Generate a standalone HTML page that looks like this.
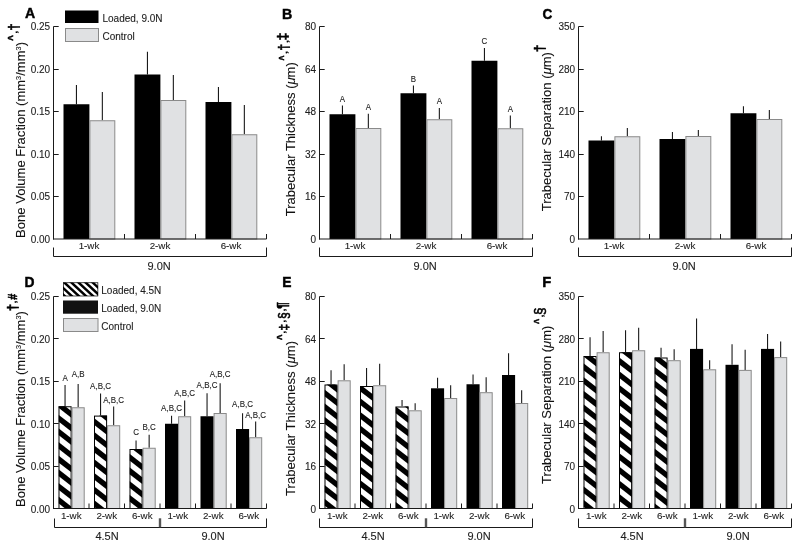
<!DOCTYPE html><html><head><meta charset="utf-8"><style>html,body{margin:0;padding:0;background:#fff;}svg{display:block;will-change:transform;}</style></head><body>
<svg width="800" height="548" viewBox="0 0 800 548" font-family="Liberation Sans, sans-serif" fill="#000">
<defs>
</defs>
<line x1="76.45" y1="85.0" x2="76.45" y2="104.25" stroke="#1a1a1a" stroke-width="1.1"/>
<rect x="63.5" y="104.25" width="25.9" height="134.75" fill="#000"/>
<line x1="102.35000000000001" y1="92.0" x2="102.35000000000001" y2="120.25" stroke="#1a1a1a" stroke-width="1.1"/>
<rect x="89.9" y="120.75" width="24.9" height="118.25" fill="#e0e1e3" stroke="#8a8a8a" stroke-width="1"/>
<line x1="147.45" y1="51.75" x2="147.45" y2="74.5" stroke="#1a1a1a" stroke-width="1.1"/>
<rect x="134.5" y="74.5" width="25.9" height="164.5" fill="#000"/>
<line x1="173.35" y1="75.0" x2="173.35" y2="100.0" stroke="#1a1a1a" stroke-width="1.1"/>
<rect x="160.9" y="100.5" width="24.9" height="138.5" fill="#e0e1e3" stroke="#8a8a8a" stroke-width="1"/>
<line x1="218.45" y1="87.0" x2="218.45" y2="102.0" stroke="#1a1a1a" stroke-width="1.1"/>
<rect x="205.5" y="102.0" width="25.9" height="137.0" fill="#000"/>
<line x1="244.35" y1="105.0" x2="244.35" y2="134.25" stroke="#1a1a1a" stroke-width="1.1"/>
<rect x="231.9" y="134.75" width="24.9" height="104.25" fill="#e0e1e3" stroke="#8a8a8a" stroke-width="1"/>
<line x1="53.5" y1="26.5" x2="53.5" y2="239.5" stroke="#1a1a1a" stroke-width="1.0"/>
<text x="50.1" y="242.6" font-size="10" text-anchor="end" font-weight="normal" stroke="#1a1a1a" stroke-width="0.1" fill="#222">0.00</text>
<line x1="53.5" y1="196.5" x2="58.7" y2="196.5" stroke="#1a1a1a" stroke-width="1.0"/>
<text x="50.1" y="200.1" font-size="10" text-anchor="end" font-weight="normal" stroke="#1a1a1a" stroke-width="0.1" fill="#222">0.05</text>
<line x1="53.5" y1="154.5" x2="58.7" y2="154.5" stroke="#1a1a1a" stroke-width="1.0"/>
<text x="50.1" y="157.6" font-size="10" text-anchor="end" font-weight="normal" stroke="#1a1a1a" stroke-width="0.1" fill="#222">0.10</text>
<line x1="53.5" y1="111.5" x2="58.7" y2="111.5" stroke="#1a1a1a" stroke-width="1.0"/>
<text x="50.1" y="115.1" font-size="10" text-anchor="end" font-weight="normal" stroke="#1a1a1a" stroke-width="0.1" fill="#222">0.15</text>
<line x1="53.5" y1="69.5" x2="58.7" y2="69.5" stroke="#1a1a1a" stroke-width="1.0"/>
<text x="50.1" y="72.6" font-size="10" text-anchor="end" font-weight="normal" stroke="#1a1a1a" stroke-width="0.1" fill="#222">0.20</text>
<line x1="53.5" y1="26.5" x2="58.7" y2="26.5" stroke="#1a1a1a" stroke-width="1.0"/>
<text x="50.1" y="30.1" font-size="10" text-anchor="end" font-weight="normal" stroke="#1a1a1a" stroke-width="0.1" fill="#222">0.25</text>
<line x1="53.0" y1="239.0" x2="266.5" y2="239.0" stroke="#1a1a1a" stroke-width="1.0"/>
<line x1="124.5" y1="234.0" x2="124.5" y2="239.0" stroke="#1a1a1a" stroke-width="1.0"/>
<line x1="195.5" y1="234.0" x2="195.5" y2="239.0" stroke="#1a1a1a" stroke-width="1.0"/>
<line x1="266.5" y1="234.0" x2="266.5" y2="239.0" stroke="#1a1a1a" stroke-width="1.0"/>
<text x="89.0" y="249.2" font-size="9.8" text-anchor="middle" font-weight="normal" stroke="#1a1a1a" stroke-width="0.1" fill="#222">1-wk</text>
<text x="160.0" y="249.2" font-size="9.8" text-anchor="middle" font-weight="normal" stroke="#1a1a1a" stroke-width="0.1" fill="#222">2-wk</text>
<text x="231.0" y="249.2" font-size="9.8" text-anchor="middle" font-weight="normal" stroke="#1a1a1a" stroke-width="0.1" fill="#222">6-wk</text>
<polyline points="53.5,247.5 53.5,256.5 266.5,256.5 266.5,247.5" fill="none" stroke="#1a1a1a" stroke-width="1"/>
<text x="159.1" y="269.6" font-size="11" text-anchor="middle" font-weight="normal" stroke="#1a1a1a" stroke-width="0.1" fill="#222">9.0N</text>
<text transform="translate(24.97,18.47) scale(0.7043,0.7638)" font-size="20" font-weight="bold" fill="#000" stroke="#000" stroke-width="0.613">A</text>
<line x1="342.45" y1="105.5" x2="342.45" y2="114.25" stroke="#1a1a1a" stroke-width="1.1"/>
<rect x="329.5" y="114.25" width="25.9" height="124.75" fill="#000"/>
<line x1="368.34999999999997" y1="113.75" x2="368.34999999999997" y2="128.0" stroke="#1a1a1a" stroke-width="1.1"/>
<rect x="355.9" y="128.5" width="24.9" height="110.5" fill="#e0e1e3" stroke="#8a8a8a" stroke-width="1"/>
<text x="342.45" y="101.8" font-size="8.6" text-anchor="middle" font-weight="normal" fill="#1a1a1a" stroke="#1a1a1a" stroke-width="0.1" textLength="5.28" lengthAdjust="spacingAndGlyphs">A</text>
<text x="368.34999999999997" y="109.95" font-size="8.6" text-anchor="middle" font-weight="normal" fill="#1a1a1a" stroke="#1a1a1a" stroke-width="0.1" textLength="5.28" lengthAdjust="spacingAndGlyphs">A</text>
<line x1="413.45" y1="85.5" x2="413.45" y2="93.25" stroke="#1a1a1a" stroke-width="1.1"/>
<rect x="400.5" y="93.25" width="25.9" height="145.75" fill="#000"/>
<line x1="439.34999999999997" y1="108.0" x2="439.34999999999997" y2="119.25" stroke="#1a1a1a" stroke-width="1.1"/>
<rect x="426.9" y="119.75" width="24.9" height="119.25" fill="#e0e1e3" stroke="#8a8a8a" stroke-width="1"/>
<text x="413.45" y="81.8" font-size="8.6" text-anchor="middle" font-weight="normal" fill="#1a1a1a" stroke="#1a1a1a" stroke-width="0.1" textLength="5.28" lengthAdjust="spacingAndGlyphs">B</text>
<text x="439.34999999999997" y="104.2" font-size="8.6" text-anchor="middle" font-weight="normal" fill="#1a1a1a" stroke="#1a1a1a" stroke-width="0.1" textLength="5.28" lengthAdjust="spacingAndGlyphs">A</text>
<line x1="484.45" y1="48.0" x2="484.45" y2="60.75" stroke="#1a1a1a" stroke-width="1.1"/>
<rect x="471.5" y="60.75" width="25.9" height="178.25" fill="#000"/>
<line x1="510.34999999999997" y1="115.5" x2="510.34999999999997" y2="128.25" stroke="#1a1a1a" stroke-width="1.1"/>
<rect x="497.9" y="128.75" width="24.9" height="110.25" fill="#e0e1e3" stroke="#8a8a8a" stroke-width="1"/>
<text x="484.45" y="44.3" font-size="8.6" text-anchor="middle" font-weight="normal" fill="#1a1a1a" stroke="#1a1a1a" stroke-width="0.1" textLength="5.71" lengthAdjust="spacingAndGlyphs">C</text>
<text x="510.34999999999997" y="111.7" font-size="8.6" text-anchor="middle" font-weight="normal" fill="#1a1a1a" stroke="#1a1a1a" stroke-width="0.1" textLength="5.28" lengthAdjust="spacingAndGlyphs">A</text>
<line x1="319.5" y1="26.5" x2="319.5" y2="239.5" stroke="#1a1a1a" stroke-width="1.0"/>
<text x="316.1" y="242.6" font-size="10" text-anchor="end" font-weight="normal" stroke="#1a1a1a" stroke-width="0.1" fill="#222">0</text>
<line x1="319.5" y1="196.5" x2="324.7" y2="196.5" stroke="#1a1a1a" stroke-width="1.0"/>
<text x="316.1" y="200.1" font-size="10" text-anchor="end" font-weight="normal" stroke="#1a1a1a" stroke-width="0.1" fill="#222">16</text>
<line x1="319.5" y1="154.5" x2="324.7" y2="154.5" stroke="#1a1a1a" stroke-width="1.0"/>
<text x="316.1" y="157.6" font-size="10" text-anchor="end" font-weight="normal" stroke="#1a1a1a" stroke-width="0.1" fill="#222">32</text>
<line x1="319.5" y1="111.5" x2="324.7" y2="111.5" stroke="#1a1a1a" stroke-width="1.0"/>
<text x="316.1" y="115.1" font-size="10" text-anchor="end" font-weight="normal" stroke="#1a1a1a" stroke-width="0.1" fill="#222">48</text>
<line x1="319.5" y1="69.5" x2="324.7" y2="69.5" stroke="#1a1a1a" stroke-width="1.0"/>
<text x="316.1" y="72.6" font-size="10" text-anchor="end" font-weight="normal" stroke="#1a1a1a" stroke-width="0.1" fill="#222">64</text>
<line x1="319.5" y1="26.5" x2="324.7" y2="26.5" stroke="#1a1a1a" stroke-width="1.0"/>
<text x="316.1" y="30.1" font-size="10" text-anchor="end" font-weight="normal" stroke="#1a1a1a" stroke-width="0.1" fill="#222">80</text>
<line x1="319.0" y1="239.0" x2="532.5" y2="239.0" stroke="#1a1a1a" stroke-width="1.0"/>
<line x1="390.5" y1="234.0" x2="390.5" y2="239.0" stroke="#1a1a1a" stroke-width="1.0"/>
<line x1="461.5" y1="234.0" x2="461.5" y2="239.0" stroke="#1a1a1a" stroke-width="1.0"/>
<line x1="532.5" y1="234.0" x2="532.5" y2="239.0" stroke="#1a1a1a" stroke-width="1.0"/>
<text x="355.0" y="249.2" font-size="9.8" text-anchor="middle" font-weight="normal" stroke="#1a1a1a" stroke-width="0.1" fill="#222">1-wk</text>
<text x="426.0" y="249.2" font-size="9.8" text-anchor="middle" font-weight="normal" stroke="#1a1a1a" stroke-width="0.1" fill="#222">2-wk</text>
<text x="497.0" y="249.2" font-size="9.8" text-anchor="middle" font-weight="normal" stroke="#1a1a1a" stroke-width="0.1" fill="#222">6-wk</text>
<polyline points="319.5,247.5 319.5,256.5 532.5,256.5 532.5,247.5" fill="none" stroke="#1a1a1a" stroke-width="1"/>
<text x="425.1" y="269.6" font-size="11" text-anchor="middle" font-weight="normal" stroke="#1a1a1a" stroke-width="0.1" fill="#222">9.0N</text>
<text transform="translate(282.12,18.57) scale(0.7108,0.7522)" font-size="20" font-weight="bold" fill="#000" stroke="#000" stroke-width="0.615">B</text>
<line x1="601.45" y1="136.25" x2="601.45" y2="140.5" stroke="#1a1a1a" stroke-width="1.1"/>
<rect x="588.5" y="140.5" width="25.9" height="98.5" fill="#000"/>
<line x1="627.35" y1="128.0" x2="627.35" y2="136.25" stroke="#1a1a1a" stroke-width="1.1"/>
<rect x="614.9" y="136.75" width="24.9" height="102.25" fill="#e0e1e3" stroke="#8a8a8a" stroke-width="1"/>
<line x1="672.45" y1="132.0" x2="672.45" y2="139.0" stroke="#1a1a1a" stroke-width="1.1"/>
<rect x="659.5" y="139.0" width="25.9" height="100.0" fill="#000"/>
<line x1="698.35" y1="130.0" x2="698.35" y2="136.0" stroke="#1a1a1a" stroke-width="1.1"/>
<rect x="685.9" y="136.5" width="24.9" height="102.5" fill="#e0e1e3" stroke="#8a8a8a" stroke-width="1"/>
<line x1="743.45" y1="106.25" x2="743.45" y2="113.25" stroke="#1a1a1a" stroke-width="1.1"/>
<rect x="730.5" y="113.25" width="25.9" height="125.75" fill="#000"/>
<line x1="769.35" y1="110.0" x2="769.35" y2="119.0" stroke="#1a1a1a" stroke-width="1.1"/>
<rect x="756.9" y="119.5" width="24.9" height="119.5" fill="#e0e1e3" stroke="#8a8a8a" stroke-width="1"/>
<line x1="578.5" y1="26.5" x2="578.5" y2="239.5" stroke="#1a1a1a" stroke-width="1.0"/>
<text x="575.1" y="242.6" font-size="10" text-anchor="end" font-weight="normal" stroke="#1a1a1a" stroke-width="0.1" fill="#222">0</text>
<line x1="578.5" y1="196.5" x2="583.7" y2="196.5" stroke="#1a1a1a" stroke-width="1.0"/>
<text x="575.1" y="200.1" font-size="10" text-anchor="end" font-weight="normal" stroke="#1a1a1a" stroke-width="0.1" fill="#222">70</text>
<line x1="578.5" y1="154.5" x2="583.7" y2="154.5" stroke="#1a1a1a" stroke-width="1.0"/>
<text x="575.1" y="157.6" font-size="10" text-anchor="end" font-weight="normal" stroke="#1a1a1a" stroke-width="0.1" fill="#222">140</text>
<line x1="578.5" y1="111.5" x2="583.7" y2="111.5" stroke="#1a1a1a" stroke-width="1.0"/>
<text x="575.1" y="115.1" font-size="10" text-anchor="end" font-weight="normal" stroke="#1a1a1a" stroke-width="0.1" fill="#222">210</text>
<line x1="578.5" y1="69.5" x2="583.7" y2="69.5" stroke="#1a1a1a" stroke-width="1.0"/>
<text x="575.1" y="72.6" font-size="10" text-anchor="end" font-weight="normal" stroke="#1a1a1a" stroke-width="0.1" fill="#222">280</text>
<line x1="578.5" y1="26.5" x2="583.7" y2="26.5" stroke="#1a1a1a" stroke-width="1.0"/>
<text x="575.1" y="30.1" font-size="10" text-anchor="end" font-weight="normal" stroke="#1a1a1a" stroke-width="0.1" fill="#222">350</text>
<line x1="578.0" y1="239.0" x2="791.5" y2="239.0" stroke="#1a1a1a" stroke-width="1.0"/>
<line x1="649.5" y1="234.0" x2="649.5" y2="239.0" stroke="#1a1a1a" stroke-width="1.0"/>
<line x1="720.5" y1="234.0" x2="720.5" y2="239.0" stroke="#1a1a1a" stroke-width="1.0"/>
<line x1="791.5" y1="234.0" x2="791.5" y2="239.0" stroke="#1a1a1a" stroke-width="1.0"/>
<text x="614.0" y="249.2" font-size="9.8" text-anchor="middle" font-weight="normal" stroke="#1a1a1a" stroke-width="0.1" fill="#222">1-wk</text>
<text x="685.0" y="249.2" font-size="9.8" text-anchor="middle" font-weight="normal" stroke="#1a1a1a" stroke-width="0.1" fill="#222">2-wk</text>
<text x="756.0" y="249.2" font-size="9.8" text-anchor="middle" font-weight="normal" stroke="#1a1a1a" stroke-width="0.1" fill="#222">6-wk</text>
<polyline points="578.5,247.5 578.5,256.5 791.5,256.5 791.5,247.5" fill="none" stroke="#1a1a1a" stroke-width="1"/>
<text x="684.1" y="269.6" font-size="11" text-anchor="middle" font-weight="normal" stroke="#1a1a1a" stroke-width="0.1" fill="#222">9.0N</text>
<text transform="translate(542.52,18.60) scale(0.6768,0.7542)" font-size="20" font-weight="bold" fill="#000" stroke="#000" stroke-width="0.629">C</text>
<rect x="65" y="10.5" width="33.5" height="12.5" fill="#000"/>
<rect x="65.5" y="28.5" width="33" height="13" fill="#e0e1e3" stroke="#8a8a8a" stroke-width="1"/>
<text x="102.5" y="21.8" font-size="10" text-anchor="start" font-weight="normal" stroke="#1a1a1a" stroke-width="0.1" fill="#222">Loaded, 9.0N</text>
<text x="102.5" y="40.4" font-size="10" text-anchor="start" font-weight="normal" stroke="#1a1a1a" stroke-width="0.1" fill="#222">Control</text>
<line x1="65.05" y1="385.0" x2="65.05" y2="406.25" stroke="#1a1a1a" stroke-width="1.1"/>
<clipPath id="c1"><rect x="58.5" y="406.25" width="13.1" height="102.25"/></clipPath>
<rect x="58.5" y="406.25" width="13.1" height="102.25" fill="#fff"/>
<g clip-path="url(#c1)" fill="#000"><polygon points="58.5,373.70 71.6,383.92 71.6,390.72 58.5,380.50"/><polygon points="58.5,387.35 71.6,397.57 71.6,404.37 58.5,394.15"/><polygon points="58.5,401.00 71.6,411.22 71.6,418.02 58.5,407.80"/><polygon points="58.5,414.65 71.6,424.87 71.6,431.67 58.5,421.45"/><polygon points="58.5,428.30 71.6,438.52 71.6,445.32 58.5,435.10"/><polygon points="58.5,441.95 71.6,452.17 71.6,458.97 58.5,448.75"/><polygon points="58.5,455.60 71.6,465.82 71.6,472.62 58.5,462.40"/><polygon points="58.5,469.25 71.6,479.47 71.6,486.27 58.5,476.05"/><polygon points="58.5,482.90 71.6,493.12 71.6,499.92 58.5,489.70"/><polygon points="58.5,496.55 71.6,506.77 71.6,513.57 58.5,503.35"/><polygon points="58.5,510.20 71.6,520.42 71.6,527.22 58.5,517.00"/></g>
<rect x="59.0" y="406.75" width="12.1" height="101.75" fill="none" stroke="#000" stroke-width="1.0"/>
<line x1="78.14999999999999" y1="384.0" x2="78.14999999999999" y2="407.25" stroke="#1a1a1a" stroke-width="1.1"/>
<rect x="72.1" y="407.75" width="12.1" height="100.75" fill="#e0e1e3" stroke="#8a8a8a" stroke-width="1"/>
<text x="65.05" y="381.3" font-size="9.2" text-anchor="middle" font-weight="normal" fill="#1a1a1a" stroke="#1a1a1a" stroke-width="0.1" textLength="5.34" lengthAdjust="spacingAndGlyphs">A</text>
<text x="78.14999999999999" y="376.6" font-size="9.2" text-anchor="middle" font-weight="normal" fill="#1a1a1a" stroke="#1a1a1a" stroke-width="0.1" textLength="12.90" lengthAdjust="spacingAndGlyphs">A,B</text>
<line x1="100.55" y1="393.5" x2="100.55" y2="415.6" stroke="#1a1a1a" stroke-width="1.1"/>
<clipPath id="c2"><rect x="94.0" y="415.6" width="13.1" height="92.89999999999998"/></clipPath>
<rect x="94.0" y="415.6" width="13.1" height="92.89999999999998" fill="#fff"/>
<g clip-path="url(#c2)" fill="#000"><polygon points="94.0,390.75 107.1,400.97 107.1,407.77 94.0,397.55"/><polygon points="94.0,404.40 107.1,414.62 107.1,421.42 94.0,411.20"/><polygon points="94.0,418.05 107.1,428.27 107.1,435.07 94.0,424.85"/><polygon points="94.0,431.70 107.1,441.92 107.1,448.72 94.0,438.50"/><polygon points="94.0,445.35 107.1,455.57 107.1,462.37 94.0,452.15"/><polygon points="94.0,459.00 107.1,469.22 107.1,476.02 94.0,465.80"/><polygon points="94.0,472.65 107.1,482.87 107.1,489.67 94.0,479.45"/><polygon points="94.0,486.30 107.1,496.52 107.1,503.32 94.0,493.10"/><polygon points="94.0,499.95 107.1,510.17 107.1,516.97 94.0,506.75"/><polygon points="94.0,513.60 107.1,523.82 107.1,530.62 94.0,520.40"/></g>
<rect x="94.5" y="416.1" width="12.1" height="92.39999999999998" fill="none" stroke="#000" stroke-width="1.0"/>
<line x1="113.64999999999999" y1="406.5" x2="113.64999999999999" y2="425.25" stroke="#1a1a1a" stroke-width="1.1"/>
<rect x="107.6" y="425.75" width="12.1" height="82.75" fill="#e0e1e3" stroke="#8a8a8a" stroke-width="1"/>
<text x="100.55" y="389.0" font-size="9.2" text-anchor="middle" font-weight="normal" fill="#1a1a1a" stroke="#1a1a1a" stroke-width="0.1" textLength="20.90" lengthAdjust="spacingAndGlyphs">A,B,C</text>
<text x="113.64999999999999" y="402.5" font-size="9.2" text-anchor="middle" font-weight="normal" fill="#1a1a1a" stroke="#1a1a1a" stroke-width="0.1" textLength="20.90" lengthAdjust="spacingAndGlyphs">A,B,C</text>
<line x1="136.05" y1="440.5" x2="136.05" y2="449.0" stroke="#1a1a1a" stroke-width="1.1"/>
<clipPath id="c3"><rect x="129.5" y="449.0" width="13.1" height="59.5"/></clipPath>
<rect x="129.5" y="449.0" width="13.1" height="59.5" fill="#fff"/>
<g clip-path="url(#c3)" fill="#000"><polygon points="129.5,412.75 142.6,422.97 142.6,429.77 129.5,419.55"/><polygon points="129.5,426.40 142.6,436.62 142.6,443.42 129.5,433.20"/><polygon points="129.5,440.05 142.6,450.27 142.6,457.07 129.5,446.85"/><polygon points="129.5,453.70 142.6,463.92 142.6,470.72 129.5,460.50"/><polygon points="129.5,467.35 142.6,477.57 142.6,484.37 129.5,474.15"/><polygon points="129.5,481.00 142.6,491.22 142.6,498.02 129.5,487.80"/><polygon points="129.5,494.65 142.6,504.87 142.6,511.67 129.5,501.45"/><polygon points="129.5,508.30 142.6,518.52 142.6,525.32 129.5,515.10"/><polygon points="129.5,521.95 142.6,532.17 142.6,538.97 129.5,528.75"/></g>
<rect x="130.0" y="449.5" width="12.1" height="59.0" fill="none" stroke="#000" stroke-width="1.0"/>
<line x1="149.15" y1="434.75" x2="149.15" y2="447.75" stroke="#1a1a1a" stroke-width="1.1"/>
<rect x="143.1" y="448.25" width="12.1" height="60.25" fill="#e0e1e3" stroke="#8a8a8a" stroke-width="1"/>
<text x="136.05" y="435.1" font-size="9.2" text-anchor="middle" font-weight="normal" fill="#1a1a1a" stroke="#1a1a1a" stroke-width="0.1" textLength="5.78" lengthAdjust="spacingAndGlyphs">C</text>
<text x="149.15" y="429.6" font-size="9.2" text-anchor="middle" font-weight="normal" fill="#1a1a1a" stroke="#1a1a1a" stroke-width="0.1" textLength="13.34" lengthAdjust="spacingAndGlyphs">B,C</text>
<line x1="171.55" y1="415.8" x2="171.55" y2="423.75" stroke="#1a1a1a" stroke-width="1.1"/>
<rect x="165.0" y="423.75" width="13.1" height="84.75" fill="#000"/>
<line x1="184.65" y1="400.5" x2="184.65" y2="416.25" stroke="#1a1a1a" stroke-width="1.1"/>
<rect x="178.6" y="416.75" width="12.1" height="91.75" fill="#e0e1e3" stroke="#8a8a8a" stroke-width="1"/>
<text x="171.55" y="411.3" font-size="9.2" text-anchor="middle" font-weight="normal" fill="#1a1a1a" stroke="#1a1a1a" stroke-width="0.1" textLength="20.90" lengthAdjust="spacingAndGlyphs">A,B,C</text>
<text x="184.65" y="396.3" font-size="9.2" text-anchor="middle" font-weight="normal" fill="#1a1a1a" stroke="#1a1a1a" stroke-width="0.1" textLength="20.90" lengthAdjust="spacingAndGlyphs">A,B,C</text>
<line x1="207.05" y1="393.3" x2="207.05" y2="416.25" stroke="#1a1a1a" stroke-width="1.1"/>
<rect x="200.5" y="416.25" width="13.1" height="92.25" fill="#000"/>
<line x1="220.15" y1="383.25" x2="220.15" y2="413.0" stroke="#1a1a1a" stroke-width="1.1"/>
<rect x="214.1" y="413.5" width="12.1" height="95.0" fill="#e0e1e3" stroke="#8a8a8a" stroke-width="1"/>
<text x="207.05" y="388.0" font-size="9.2" text-anchor="middle" font-weight="normal" fill="#1a1a1a" stroke="#1a1a1a" stroke-width="0.1" textLength="20.90" lengthAdjust="spacingAndGlyphs">A,B,C</text>
<text x="220.15" y="376.8" font-size="9.2" text-anchor="middle" font-weight="normal" fill="#1a1a1a" stroke="#1a1a1a" stroke-width="0.1" textLength="20.90" lengthAdjust="spacingAndGlyphs">A,B,C</text>
<line x1="242.55" y1="413.25" x2="242.55" y2="429.0" stroke="#1a1a1a" stroke-width="1.1"/>
<rect x="236.0" y="429.0" width="13.1" height="79.5" fill="#000"/>
<line x1="255.65" y1="421.5" x2="255.65" y2="437.25" stroke="#1a1a1a" stroke-width="1.1"/>
<rect x="249.6" y="437.75" width="12.1" height="70.75" fill="#e0e1e3" stroke="#8a8a8a" stroke-width="1"/>
<text x="242.55" y="406.5" font-size="9.2" text-anchor="middle" font-weight="normal" fill="#1a1a1a" stroke="#1a1a1a" stroke-width="0.1" textLength="20.90" lengthAdjust="spacingAndGlyphs">A,B,C</text>
<text x="255.65" y="417.6" font-size="9.2" text-anchor="middle" font-weight="normal" fill="#1a1a1a" stroke="#1a1a1a" stroke-width="0.1" textLength="20.90" lengthAdjust="spacingAndGlyphs">A,B,C</text>
<line x1="53.5" y1="296.5" x2="53.5" y2="509.0" stroke="#1a1a1a" stroke-width="1.0"/>
<text x="50.1" y="512.7" font-size="10" text-anchor="end" font-weight="normal" stroke="#1a1a1a" stroke-width="0.1" fill="#222">0.00</text>
<line x1="53.5" y1="466.5" x2="58.7" y2="466.5" stroke="#1a1a1a" stroke-width="1.0"/>
<text x="50.1" y="470.18000000000006" font-size="10" text-anchor="end" font-weight="normal" stroke="#1a1a1a" stroke-width="0.1" fill="#222">0.05</text>
<line x1="53.5" y1="423.5" x2="58.7" y2="423.5" stroke="#1a1a1a" stroke-width="1.0"/>
<text x="50.1" y="427.66" font-size="10" text-anchor="end" font-weight="normal" stroke="#1a1a1a" stroke-width="0.1" fill="#222">0.10</text>
<line x1="53.5" y1="381.5" x2="58.7" y2="381.5" stroke="#1a1a1a" stroke-width="1.0"/>
<text x="50.1" y="385.14000000000004" font-size="10" text-anchor="end" font-weight="normal" stroke="#1a1a1a" stroke-width="0.1" fill="#222">0.15</text>
<line x1="53.5" y1="338.5" x2="58.7" y2="338.5" stroke="#1a1a1a" stroke-width="1.0"/>
<text x="50.1" y="342.62" font-size="10" text-anchor="end" font-weight="normal" stroke="#1a1a1a" stroke-width="0.1" fill="#222">0.20</text>
<line x1="53.5" y1="296.5" x2="58.7" y2="296.5" stroke="#1a1a1a" stroke-width="1.0"/>
<text x="50.1" y="300.1" font-size="10" text-anchor="end" font-weight="normal" stroke="#1a1a1a" stroke-width="0.1" fill="#222">0.25</text>
<line x1="53.0" y1="508.5" x2="266.5" y2="508.5" stroke="#1a1a1a" stroke-width="1.0"/>
<line x1="89.0" y1="503.5" x2="89.0" y2="508.5" stroke="#1a1a1a" stroke-width="1.0"/>
<line x1="124.5" y1="503.5" x2="124.5" y2="508.5" stroke="#1a1a1a" stroke-width="1.0"/>
<line x1="160.0" y1="503.5" x2="160.0" y2="508.5" stroke="#1a1a1a" stroke-width="1.0"/>
<line x1="195.5" y1="503.5" x2="195.5" y2="508.5" stroke="#1a1a1a" stroke-width="1.0"/>
<line x1="231.0" y1="503.5" x2="231.0" y2="508.5" stroke="#1a1a1a" stroke-width="1.0"/>
<line x1="266.5" y1="503.5" x2="266.5" y2="508.5" stroke="#1a1a1a" stroke-width="1.0"/>
<text x="71.25" y="519.2" font-size="9.8" text-anchor="middle" font-weight="normal" stroke="#1a1a1a" stroke-width="0.1" fill="#222">1-wk</text>
<text x="106.75" y="519.2" font-size="9.8" text-anchor="middle" font-weight="normal" stroke="#1a1a1a" stroke-width="0.1" fill="#222">2-wk</text>
<text x="142.25" y="519.2" font-size="9.8" text-anchor="middle" font-weight="normal" stroke="#1a1a1a" stroke-width="0.1" fill="#222">6-wk</text>
<text x="177.75" y="519.2" font-size="9.8" text-anchor="middle" font-weight="normal" stroke="#1a1a1a" stroke-width="0.1" fill="#222">1-wk</text>
<text x="213.25" y="519.2" font-size="9.8" text-anchor="middle" font-weight="normal" stroke="#1a1a1a" stroke-width="0.1" fill="#222">2-wk</text>
<text x="248.75" y="519.2" font-size="9.8" text-anchor="middle" font-weight="normal" stroke="#1a1a1a" stroke-width="0.1" fill="#222">6-wk</text>
<polyline points="54.5,518.5 54.5,527.5 266.5,527.5 266.5,518.5" fill="none" stroke="#1a1a1a" stroke-width="1"/>
<rect x="158.8" y="518.3" width="2.4" height="9" fill="#555"/>
<text x="107.0" y="539.8" font-size="11" text-anchor="middle" font-weight="normal" stroke="#1a1a1a" stroke-width="0.1" fill="#222">4.5N</text>
<text x="213.0" y="539.8" font-size="11" text-anchor="middle" font-weight="normal" stroke="#1a1a1a" stroke-width="0.1" fill="#222">9.0N</text>
<text transform="translate(24.40,286.77) scale(0.6930,0.7522)" font-size="20" font-weight="bold" fill="#000" stroke="#000" stroke-width="0.623">D</text>
<line x1="331.05" y1="370.25" x2="331.05" y2="384.5" stroke="#1a1a1a" stroke-width="1.1"/>
<clipPath id="c4"><rect x="324.5" y="384.5" width="13.1" height="124.0"/></clipPath>
<rect x="324.5" y="384.5" width="13.1" height="124.0" fill="#fff"/>
<g clip-path="url(#c4)" fill="#000"><polygon points="324.5,348.60 337.6,358.82 337.6,365.62 324.5,355.40"/><polygon points="324.5,362.25 337.6,372.47 337.6,379.27 324.5,369.05"/><polygon points="324.5,375.90 337.6,386.12 337.6,392.92 324.5,382.70"/><polygon points="324.5,389.55 337.6,399.77 337.6,406.57 324.5,396.35"/><polygon points="324.5,403.20 337.6,413.42 337.6,420.22 324.5,410.00"/><polygon points="324.5,416.85 337.6,427.07 337.6,433.87 324.5,423.65"/><polygon points="324.5,430.50 337.6,440.72 337.6,447.52 324.5,437.30"/><polygon points="324.5,444.15 337.6,454.37 337.6,461.17 324.5,450.95"/><polygon points="324.5,457.80 337.6,468.02 337.6,474.82 324.5,464.60"/><polygon points="324.5,471.45 337.6,481.67 337.6,488.47 324.5,478.25"/><polygon points="324.5,485.10 337.6,495.32 337.6,502.12 324.5,491.90"/><polygon points="324.5,498.75 337.6,508.97 337.6,515.77 324.5,505.55"/><polygon points="324.5,512.40 337.6,522.62 337.6,529.42 324.5,519.20"/></g>
<rect x="325.0" y="385.0" width="12.1" height="123.5" fill="none" stroke="#000" stroke-width="1.0"/>
<line x1="344.15000000000003" y1="364.25" x2="344.15000000000003" y2="380.3" stroke="#1a1a1a" stroke-width="1.1"/>
<rect x="338.1" y="380.8" width="12.1" height="127.69999999999999" fill="#e0e1e3" stroke="#8a8a8a" stroke-width="1"/>
<line x1="366.55" y1="368.0" x2="366.55" y2="386.0" stroke="#1a1a1a" stroke-width="1.1"/>
<clipPath id="c5"><rect x="360.0" y="386.0" width="13.1" height="122.5"/></clipPath>
<rect x="360.0" y="386.0" width="13.1" height="122.5" fill="#fff"/>
<g clip-path="url(#c5)" fill="#000"><polygon points="360.0,357.05 373.1,367.27 373.1,374.07 360.0,363.85"/><polygon points="360.0,370.70 373.1,380.92 373.1,387.72 360.0,377.50"/><polygon points="360.0,384.35 373.1,394.57 373.1,401.37 360.0,391.15"/><polygon points="360.0,398.00 373.1,408.22 373.1,415.02 360.0,404.80"/><polygon points="360.0,411.65 373.1,421.87 373.1,428.67 360.0,418.45"/><polygon points="360.0,425.30 373.1,435.52 373.1,442.32 360.0,432.10"/><polygon points="360.0,438.95 373.1,449.17 373.1,455.97 360.0,445.75"/><polygon points="360.0,452.60 373.1,462.82 373.1,469.62 360.0,459.40"/><polygon points="360.0,466.25 373.1,476.47 373.1,483.27 360.0,473.05"/><polygon points="360.0,479.90 373.1,490.12 373.1,496.92 360.0,486.70"/><polygon points="360.0,493.55 373.1,503.77 373.1,510.57 360.0,500.35"/><polygon points="360.0,507.20 373.1,517.42 373.1,524.22 360.0,514.00"/><polygon points="360.0,520.85 373.1,531.07 373.1,537.87 360.0,527.65"/></g>
<rect x="360.5" y="386.5" width="12.1" height="122.0" fill="none" stroke="#000" stroke-width="1.0"/>
<line x1="379.65000000000003" y1="363.8" x2="379.65000000000003" y2="385.25" stroke="#1a1a1a" stroke-width="1.1"/>
<rect x="373.6" y="385.75" width="12.1" height="122.75" fill="#e0e1e3" stroke="#8a8a8a" stroke-width="1"/>
<line x1="402.05" y1="400.0" x2="402.05" y2="406.5" stroke="#1a1a1a" stroke-width="1.1"/>
<clipPath id="c6"><rect x="395.5" y="406.5" width="13.1" height="102.0"/></clipPath>
<rect x="395.5" y="406.5" width="13.1" height="102.0" fill="#fff"/>
<g clip-path="url(#c6)" fill="#000"><polygon points="395.5,378.90 408.6,389.12 408.6,395.92 395.5,385.70"/><polygon points="395.5,392.55 408.6,402.77 408.6,409.57 395.5,399.35"/><polygon points="395.5,406.20 408.6,416.42 408.6,423.22 395.5,413.00"/><polygon points="395.5,419.85 408.6,430.07 408.6,436.87 395.5,426.65"/><polygon points="395.5,433.50 408.6,443.72 408.6,450.52 395.5,440.30"/><polygon points="395.5,447.15 408.6,457.37 408.6,464.17 395.5,453.95"/><polygon points="395.5,460.80 408.6,471.02 408.6,477.82 395.5,467.60"/><polygon points="395.5,474.45 408.6,484.67 408.6,491.47 395.5,481.25"/><polygon points="395.5,488.10 408.6,498.32 408.6,505.12 395.5,494.90"/><polygon points="395.5,501.75 408.6,511.97 408.6,518.77 395.5,508.55"/><polygon points="395.5,515.40 408.6,525.62 408.6,532.42 395.5,522.20"/></g>
<rect x="396.0" y="407.0" width="12.1" height="101.5" fill="none" stroke="#000" stroke-width="1.0"/>
<line x1="415.15000000000003" y1="403.25" x2="415.15000000000003" y2="410.3" stroke="#1a1a1a" stroke-width="1.1"/>
<rect x="409.1" y="410.8" width="12.1" height="97.69999999999999" fill="#e0e1e3" stroke="#8a8a8a" stroke-width="1"/>
<line x1="437.55" y1="377.8" x2="437.55" y2="388.3" stroke="#1a1a1a" stroke-width="1.1"/>
<rect x="431.0" y="388.3" width="13.1" height="120.19999999999999" fill="#000"/>
<line x1="450.65000000000003" y1="385.3" x2="450.65000000000003" y2="398.0" stroke="#1a1a1a" stroke-width="1.1"/>
<rect x="444.6" y="398.5" width="12.1" height="110.0" fill="#e0e1e3" stroke="#8a8a8a" stroke-width="1"/>
<line x1="473.05" y1="374.5" x2="473.05" y2="384.25" stroke="#1a1a1a" stroke-width="1.1"/>
<rect x="466.5" y="384.25" width="13.1" height="124.25" fill="#000"/>
<line x1="486.15000000000003" y1="377.2" x2="486.15000000000003" y2="392.2" stroke="#1a1a1a" stroke-width="1.1"/>
<rect x="480.1" y="392.7" width="12.1" height="115.80000000000001" fill="#e0e1e3" stroke="#8a8a8a" stroke-width="1"/>
<line x1="508.55" y1="353.2" x2="508.55" y2="375.0" stroke="#1a1a1a" stroke-width="1.1"/>
<rect x="502.0" y="375.0" width="13.1" height="133.5" fill="#000"/>
<line x1="521.65" y1="390.25" x2="521.65" y2="403.0" stroke="#1a1a1a" stroke-width="1.1"/>
<rect x="515.6" y="403.5" width="12.1" height="105.0" fill="#e0e1e3" stroke="#8a8a8a" stroke-width="1"/>
<line x1="319.5" y1="296.5" x2="319.5" y2="509.0" stroke="#1a1a1a" stroke-width="1.0"/>
<text x="316.1" y="512.7" font-size="10" text-anchor="end" font-weight="normal" stroke="#1a1a1a" stroke-width="0.1" fill="#222">0</text>
<line x1="319.5" y1="466.5" x2="324.7" y2="466.5" stroke="#1a1a1a" stroke-width="1.0"/>
<text x="316.1" y="470.18000000000006" font-size="10" text-anchor="end" font-weight="normal" stroke="#1a1a1a" stroke-width="0.1" fill="#222">16</text>
<line x1="319.5" y1="423.5" x2="324.7" y2="423.5" stroke="#1a1a1a" stroke-width="1.0"/>
<text x="316.1" y="427.66" font-size="10" text-anchor="end" font-weight="normal" stroke="#1a1a1a" stroke-width="0.1" fill="#222">32</text>
<line x1="319.5" y1="381.5" x2="324.7" y2="381.5" stroke="#1a1a1a" stroke-width="1.0"/>
<text x="316.1" y="385.14000000000004" font-size="10" text-anchor="end" font-weight="normal" stroke="#1a1a1a" stroke-width="0.1" fill="#222">48</text>
<line x1="319.5" y1="338.5" x2="324.7" y2="338.5" stroke="#1a1a1a" stroke-width="1.0"/>
<text x="316.1" y="342.62" font-size="10" text-anchor="end" font-weight="normal" stroke="#1a1a1a" stroke-width="0.1" fill="#222">64</text>
<line x1="319.5" y1="296.5" x2="324.7" y2="296.5" stroke="#1a1a1a" stroke-width="1.0"/>
<text x="316.1" y="300.1" font-size="10" text-anchor="end" font-weight="normal" stroke="#1a1a1a" stroke-width="0.1" fill="#222">80</text>
<line x1="319.0" y1="508.5" x2="532.5" y2="508.5" stroke="#1a1a1a" stroke-width="1.0"/>
<line x1="355.0" y1="503.5" x2="355.0" y2="508.5" stroke="#1a1a1a" stroke-width="1.0"/>
<line x1="390.5" y1="503.5" x2="390.5" y2="508.5" stroke="#1a1a1a" stroke-width="1.0"/>
<line x1="426.0" y1="503.5" x2="426.0" y2="508.5" stroke="#1a1a1a" stroke-width="1.0"/>
<line x1="461.5" y1="503.5" x2="461.5" y2="508.5" stroke="#1a1a1a" stroke-width="1.0"/>
<line x1="497.0" y1="503.5" x2="497.0" y2="508.5" stroke="#1a1a1a" stroke-width="1.0"/>
<line x1="532.5" y1="503.5" x2="532.5" y2="508.5" stroke="#1a1a1a" stroke-width="1.0"/>
<text x="337.25" y="519.2" font-size="9.8" text-anchor="middle" font-weight="normal" stroke="#1a1a1a" stroke-width="0.1" fill="#222">1-wk</text>
<text x="372.75" y="519.2" font-size="9.8" text-anchor="middle" font-weight="normal" stroke="#1a1a1a" stroke-width="0.1" fill="#222">2-wk</text>
<text x="408.25" y="519.2" font-size="9.8" text-anchor="middle" font-weight="normal" stroke="#1a1a1a" stroke-width="0.1" fill="#222">6-wk</text>
<text x="443.75" y="519.2" font-size="9.8" text-anchor="middle" font-weight="normal" stroke="#1a1a1a" stroke-width="0.1" fill="#222">1-wk</text>
<text x="479.25" y="519.2" font-size="9.8" text-anchor="middle" font-weight="normal" stroke="#1a1a1a" stroke-width="0.1" fill="#222">2-wk</text>
<text x="514.75" y="519.2" font-size="9.8" text-anchor="middle" font-weight="normal" stroke="#1a1a1a" stroke-width="0.1" fill="#222">6-wk</text>
<polyline points="319.5,518.5 319.5,527.5 532.5,527.5 532.5,518.5" fill="none" stroke="#1a1a1a" stroke-width="1"/>
<rect x="424.8" y="518.3" width="2.4" height="9" fill="#555"/>
<text x="373.0" y="539.8" font-size="11" text-anchor="middle" font-weight="normal" stroke="#1a1a1a" stroke-width="0.1" fill="#222">4.5N</text>
<text x="479.0" y="539.8" font-size="11" text-anchor="middle" font-weight="normal" stroke="#1a1a1a" stroke-width="0.1" fill="#222">9.0N</text>
<text transform="translate(282.15,287.47) scale(0.6916,0.7638)" font-size="20" font-weight="bold" fill="#000" stroke="#000" stroke-width="0.618">E</text>
<line x1="590.05" y1="337.25" x2="590.05" y2="356.0" stroke="#1a1a1a" stroke-width="1.1"/>
<clipPath id="c7"><rect x="583.5" y="356.0" width="13.1" height="152.5"/></clipPath>
<rect x="583.5" y="356.0" width="13.1" height="152.5" fill="#fff"/>
<g clip-path="url(#c7)" fill="#000"><polygon points="583.5,322.40 596.6,332.62 596.6,339.42 583.5,329.20"/><polygon points="583.5,336.05 596.6,346.27 596.6,353.07 583.5,342.85"/><polygon points="583.5,349.70 596.6,359.92 596.6,366.72 583.5,356.50"/><polygon points="583.5,363.35 596.6,373.57 596.6,380.37 583.5,370.15"/><polygon points="583.5,377.00 596.6,387.22 596.6,394.02 583.5,383.80"/><polygon points="583.5,390.65 596.6,400.87 596.6,407.67 583.5,397.45"/><polygon points="583.5,404.30 596.6,414.52 596.6,421.32 583.5,411.10"/><polygon points="583.5,417.95 596.6,428.17 596.6,434.97 583.5,424.75"/><polygon points="583.5,431.60 596.6,441.82 596.6,448.62 583.5,438.40"/><polygon points="583.5,445.25 596.6,455.47 596.6,462.27 583.5,452.05"/><polygon points="583.5,458.90 596.6,469.12 596.6,475.92 583.5,465.70"/><polygon points="583.5,472.55 596.6,482.77 596.6,489.57 583.5,479.35"/><polygon points="583.5,486.20 596.6,496.42 596.6,503.22 583.5,493.00"/><polygon points="583.5,499.85 596.6,510.07 596.6,516.87 583.5,506.65"/><polygon points="583.5,513.50 596.6,523.72 596.6,530.52 583.5,520.30"/></g>
<rect x="584.0" y="356.5" width="12.1" height="152.0" fill="none" stroke="#000" stroke-width="1.0"/>
<line x1="603.15" y1="331.0" x2="603.15" y2="352.25" stroke="#1a1a1a" stroke-width="1.1"/>
<rect x="597.1" y="352.75" width="12.1" height="155.75" fill="#e0e1e3" stroke="#8a8a8a" stroke-width="1"/>
<line x1="625.55" y1="330.25" x2="625.55" y2="352.25" stroke="#1a1a1a" stroke-width="1.1"/>
<clipPath id="c8"><rect x="619.0" y="352.25" width="13.1" height="156.25"/></clipPath>
<rect x="619.0" y="352.25" width="13.1" height="156.25" fill="#fff"/>
<g clip-path="url(#c8)" fill="#000"><polygon points="619.0,316.40 632.1,326.62 632.1,333.42 619.0,323.20"/><polygon points="619.0,330.05 632.1,340.27 632.1,347.07 619.0,336.85"/><polygon points="619.0,343.70 632.1,353.92 632.1,360.72 619.0,350.50"/><polygon points="619.0,357.35 632.1,367.57 632.1,374.37 619.0,364.15"/><polygon points="619.0,371.00 632.1,381.22 632.1,388.02 619.0,377.80"/><polygon points="619.0,384.65 632.1,394.87 632.1,401.67 619.0,391.45"/><polygon points="619.0,398.30 632.1,408.52 632.1,415.32 619.0,405.10"/><polygon points="619.0,411.95 632.1,422.17 632.1,428.97 619.0,418.75"/><polygon points="619.0,425.60 632.1,435.82 632.1,442.62 619.0,432.40"/><polygon points="619.0,439.25 632.1,449.47 632.1,456.27 619.0,446.05"/><polygon points="619.0,452.90 632.1,463.12 632.1,469.92 619.0,459.70"/><polygon points="619.0,466.55 632.1,476.77 632.1,483.57 619.0,473.35"/><polygon points="619.0,480.20 632.1,490.42 632.1,497.22 619.0,487.00"/><polygon points="619.0,493.85 632.1,504.07 632.1,510.87 619.0,500.65"/><polygon points="619.0,507.50 632.1,517.72 632.1,524.52 619.0,514.30"/><polygon points="619.0,521.15 632.1,531.37 632.1,538.17 619.0,527.95"/></g>
<rect x="619.5" y="352.75" width="12.1" height="155.75" fill="none" stroke="#000" stroke-width="1.0"/>
<line x1="638.65" y1="327.75" x2="638.65" y2="350.25" stroke="#1a1a1a" stroke-width="1.1"/>
<rect x="632.6" y="350.75" width="12.1" height="157.75" fill="#e0e1e3" stroke="#8a8a8a" stroke-width="1"/>
<line x1="661.05" y1="347.75" x2="661.05" y2="357.5" stroke="#1a1a1a" stroke-width="1.1"/>
<clipPath id="c9"><rect x="654.5" y="357.5" width="13.1" height="151.0"/></clipPath>
<rect x="654.5" y="357.5" width="13.1" height="151.0" fill="#fff"/>
<g clip-path="url(#c9)" fill="#000"><polygon points="654.5,325.70 667.6,335.92 667.6,342.72 654.5,332.50"/><polygon points="654.5,339.35 667.6,349.57 667.6,356.37 654.5,346.15"/><polygon points="654.5,353.00 667.6,363.22 667.6,370.02 654.5,359.80"/><polygon points="654.5,366.65 667.6,376.87 667.6,383.67 654.5,373.45"/><polygon points="654.5,380.30 667.6,390.52 667.6,397.32 654.5,387.10"/><polygon points="654.5,393.95 667.6,404.17 667.6,410.97 654.5,400.75"/><polygon points="654.5,407.60 667.6,417.82 667.6,424.62 654.5,414.40"/><polygon points="654.5,421.25 667.6,431.47 667.6,438.27 654.5,428.05"/><polygon points="654.5,434.90 667.6,445.12 667.6,451.92 654.5,441.70"/><polygon points="654.5,448.55 667.6,458.77 667.6,465.57 654.5,455.35"/><polygon points="654.5,462.20 667.6,472.42 667.6,479.22 654.5,469.00"/><polygon points="654.5,475.85 667.6,486.07 667.6,492.87 654.5,482.65"/><polygon points="654.5,489.50 667.6,499.72 667.6,506.52 654.5,496.30"/><polygon points="654.5,503.15 667.6,513.37 667.6,520.17 654.5,509.95"/><polygon points="654.5,516.80 667.6,527.02 667.6,533.82 654.5,523.60"/></g>
<rect x="655.0" y="358.0" width="12.1" height="150.5" fill="none" stroke="#000" stroke-width="1.0"/>
<line x1="674.15" y1="349.3" x2="674.15" y2="360.2" stroke="#1a1a1a" stroke-width="1.1"/>
<rect x="668.1" y="360.7" width="12.1" height="147.8" fill="#e0e1e3" stroke="#8a8a8a" stroke-width="1"/>
<line x1="696.55" y1="318.6" x2="696.55" y2="348.9" stroke="#1a1a1a" stroke-width="1.1"/>
<rect x="690.0" y="348.9" width="13.1" height="159.60000000000002" fill="#000"/>
<line x1="709.65" y1="360.2" x2="709.65" y2="369.3" stroke="#1a1a1a" stroke-width="1.1"/>
<rect x="703.6" y="369.8" width="12.1" height="138.7" fill="#e0e1e3" stroke="#8a8a8a" stroke-width="1"/>
<line x1="732.05" y1="344.3" x2="732.05" y2="364.8" stroke="#1a1a1a" stroke-width="1.1"/>
<rect x="725.5" y="364.8" width="13.1" height="143.7" fill="#000"/>
<line x1="745.15" y1="349.8" x2="745.15" y2="369.9" stroke="#1a1a1a" stroke-width="1.1"/>
<rect x="739.1" y="370.4" width="12.1" height="138.10000000000002" fill="#e0e1e3" stroke="#8a8a8a" stroke-width="1"/>
<line x1="767.55" y1="334.1" x2="767.55" y2="348.9" stroke="#1a1a1a" stroke-width="1.1"/>
<rect x="761.0" y="348.9" width="13.1" height="159.60000000000002" fill="#000"/>
<line x1="780.65" y1="341.6" x2="780.65" y2="357.1" stroke="#1a1a1a" stroke-width="1.1"/>
<rect x="774.6" y="357.6" width="12.1" height="150.89999999999998" fill="#e0e1e3" stroke="#8a8a8a" stroke-width="1"/>
<line x1="578.5" y1="296.5" x2="578.5" y2="509.0" stroke="#1a1a1a" stroke-width="1.0"/>
<text x="575.1" y="512.7" font-size="10" text-anchor="end" font-weight="normal" stroke="#1a1a1a" stroke-width="0.1" fill="#222">0</text>
<line x1="578.5" y1="466.5" x2="583.7" y2="466.5" stroke="#1a1a1a" stroke-width="1.0"/>
<text x="575.1" y="470.18000000000006" font-size="10" text-anchor="end" font-weight="normal" stroke="#1a1a1a" stroke-width="0.1" fill="#222">70</text>
<line x1="578.5" y1="423.5" x2="583.7" y2="423.5" stroke="#1a1a1a" stroke-width="1.0"/>
<text x="575.1" y="427.66" font-size="10" text-anchor="end" font-weight="normal" stroke="#1a1a1a" stroke-width="0.1" fill="#222">140</text>
<line x1="578.5" y1="381.5" x2="583.7" y2="381.5" stroke="#1a1a1a" stroke-width="1.0"/>
<text x="575.1" y="385.14000000000004" font-size="10" text-anchor="end" font-weight="normal" stroke="#1a1a1a" stroke-width="0.1" fill="#222">210</text>
<line x1="578.5" y1="338.5" x2="583.7" y2="338.5" stroke="#1a1a1a" stroke-width="1.0"/>
<text x="575.1" y="342.62" font-size="10" text-anchor="end" font-weight="normal" stroke="#1a1a1a" stroke-width="0.1" fill="#222">280</text>
<line x1="578.5" y1="296.5" x2="583.7" y2="296.5" stroke="#1a1a1a" stroke-width="1.0"/>
<text x="575.1" y="300.1" font-size="10" text-anchor="end" font-weight="normal" stroke="#1a1a1a" stroke-width="0.1" fill="#222">350</text>
<line x1="578.0" y1="508.5" x2="791.5" y2="508.5" stroke="#1a1a1a" stroke-width="1.0"/>
<line x1="614.0" y1="503.5" x2="614.0" y2="508.5" stroke="#1a1a1a" stroke-width="1.0"/>
<line x1="649.5" y1="503.5" x2="649.5" y2="508.5" stroke="#1a1a1a" stroke-width="1.0"/>
<line x1="685.0" y1="503.5" x2="685.0" y2="508.5" stroke="#1a1a1a" stroke-width="1.0"/>
<line x1="720.5" y1="503.5" x2="720.5" y2="508.5" stroke="#1a1a1a" stroke-width="1.0"/>
<line x1="756.0" y1="503.5" x2="756.0" y2="508.5" stroke="#1a1a1a" stroke-width="1.0"/>
<line x1="791.5" y1="503.5" x2="791.5" y2="508.5" stroke="#1a1a1a" stroke-width="1.0"/>
<text x="596.25" y="519.2" font-size="9.8" text-anchor="middle" font-weight="normal" stroke="#1a1a1a" stroke-width="0.1" fill="#222">1-wk</text>
<text x="631.75" y="519.2" font-size="9.8" text-anchor="middle" font-weight="normal" stroke="#1a1a1a" stroke-width="0.1" fill="#222">2-wk</text>
<text x="667.25" y="519.2" font-size="9.8" text-anchor="middle" font-weight="normal" stroke="#1a1a1a" stroke-width="0.1" fill="#222">6-wk</text>
<text x="702.75" y="519.2" font-size="9.8" text-anchor="middle" font-weight="normal" stroke="#1a1a1a" stroke-width="0.1" fill="#222">1-wk</text>
<text x="738.25" y="519.2" font-size="9.8" text-anchor="middle" font-weight="normal" stroke="#1a1a1a" stroke-width="0.1" fill="#222">2-wk</text>
<text x="773.75" y="519.2" font-size="9.8" text-anchor="middle" font-weight="normal" stroke="#1a1a1a" stroke-width="0.1" fill="#222">6-wk</text>
<polyline points="578.5,518.5 578.5,527.5 791.5,527.5 791.5,518.5" fill="none" stroke="#1a1a1a" stroke-width="1"/>
<rect x="683.8" y="518.3" width="2.4" height="9" fill="#555"/>
<text x="632.0" y="539.8" font-size="11" text-anchor="middle" font-weight="normal" stroke="#1a1a1a" stroke-width="0.1" fill="#222">4.5N</text>
<text x="738.0" y="539.8" font-size="11" text-anchor="middle" font-weight="normal" stroke="#1a1a1a" stroke-width="0.1" fill="#222">9.0N</text>
<text transform="translate(542.24,286.57) scale(0.7342,0.7377)" font-size="20" font-weight="bold" fill="#000" stroke="#000" stroke-width="0.611">F</text>
<clipPath id="c10"><rect x="63.0" y="282.4" width="35.2" height="13.6"/></clipPath>
<rect x="63.0" y="282.4" width="35.2" height="13.6" fill="#fff"/>
<g clip-path="url(#c10)" fill="#000"><polygon points="63.0,240.00 98.2,272.74 98.2,276.14 63.0,243.40"/><polygon points="63.0,246.60 98.2,279.34 98.2,282.74 63.0,250.00"/><polygon points="63.0,253.20 98.2,285.94 98.2,289.34 63.0,256.60"/><polygon points="63.0,259.80 98.2,292.54 98.2,295.94 63.0,263.20"/><polygon points="63.0,266.40 98.2,299.14 98.2,302.54 63.0,269.80"/><polygon points="63.0,273.00 98.2,305.74 98.2,309.14 63.0,276.40"/><polygon points="63.0,279.60 98.2,312.34 98.2,315.74 63.0,283.00"/><polygon points="63.0,286.20 98.2,318.94 98.2,322.34 63.0,289.60"/><polygon points="63.0,292.80 98.2,325.54 98.2,328.94 63.0,296.20"/><polygon points="63.0,299.40 98.2,332.14 98.2,335.54 63.0,302.80"/></g>
<rect x="63.35" y="282.75" width="34.5" height="13.25" fill="none" stroke="#000" stroke-width="0.7"/>
<rect x="63" y="300.5" width="35" height="13.2" fill="#111"/>
<rect x="63.5" y="318.5" width="34.5" height="13" fill="#e0e1e3" stroke="#8a8a8a" stroke-width="1"/>
<text x="101.3" y="293.6" font-size="10" text-anchor="start" font-weight="normal" stroke="#1a1a1a" stroke-width="0.1" fill="#222">Loaded, 4.5N</text>
<text x="101.3" y="312.0" font-size="10" text-anchor="start" font-weight="normal" stroke="#1a1a1a" stroke-width="0.1" fill="#222">Loaded, 9.0N</text>
<text x="101.3" y="329.6" font-size="10" text-anchor="start" font-weight="normal" stroke="#1a1a1a" stroke-width="0.1" fill="#222">Control</text>
<text transform="translate(24.9,237.92) rotate(-90)" font-size="13.0" fill="#111" stroke="#111" stroke-width="0.1" textLength="195.92" lengthAdjust="spacingAndGlyphs">Bone Volume Fraction (mm<tspan font-size="7.3" dy="-4.4">3</tspan><tspan dy="4.4">/mm</tspan><tspan font-size="7.3" dy="-4.4">3</tspan><tspan dy="4.4">)</tspan></text>
<text transform="translate(16.16,40.86) rotate(-90) scale(0.4814,0.5606)" font-size="20" font-weight="bold" fill="#000" stroke="#000" stroke-width="0.960" stroke-linejoin="round">^</text>
<text transform="translate(17.34,34.56) rotate(-90) scale(0.8151,0.5322)" font-size="20" font-weight="normal" fill="#000" stroke="#000" stroke-width="0.297" stroke-linejoin="round">,</text>
<text transform="translate(18.58,30.76) rotate(-90) scale(0.6756,0.7197)" font-size="20" font-weight="bold" fill="#000" stroke="#000" stroke-width="0.717" stroke-linejoin="round">†</text>
<text transform="translate(294.8,216.19) rotate(-90)" font-size="13.0" fill="#111" stroke="#111" stroke-width="0.1" textLength="153.99" lengthAdjust="spacingAndGlyphs">Trabecular Thickness (<tspan font-style="italic">μ</tspan>m)</text>
<text transform="translate(286.52,60.44) rotate(-90) scale(0.4259,0.5721)" font-size="20" font-weight="bold" fill="#000" stroke="#000" stroke-width="1.002" stroke-linejoin="round">^</text>
<text transform="translate(287.34,54.76) rotate(-90) scale(0.8151,0.5322)" font-size="20" font-weight="normal" fill="#000" stroke="#000" stroke-width="0.297" stroke-linejoin="round">,</text>
<text transform="translate(288.50,50.45) rotate(-90) scale(0.5926,0.7071)" font-size="20" font-weight="bold" fill="#000" stroke="#000" stroke-width="0.769" stroke-linejoin="round">†</text>
<text transform="translate(287.54,43.76) rotate(-90) scale(0.8151,0.5322)" font-size="20" font-weight="normal" fill="#000" stroke="#000" stroke-width="0.297" stroke-linejoin="round">,</text>
<text transform="translate(288.48,40.41) rotate(-90) scale(0.7213,0.7058)" font-size="20" font-weight="bold" fill="#000" stroke="#000" stroke-width="0.701" stroke-linejoin="round">‡</text>
<text transform="translate(551.0,211.29) rotate(-90)" font-size="13.0" fill="#111" stroke="#111" stroke-width="0.1" textLength="159.20" lengthAdjust="spacingAndGlyphs">Trabecular Separation (<tspan font-style="italic">μ</tspan>m)</text>
<text transform="translate(544.59,52.18) rotate(-90) scale(0.6874,0.7134)" font-size="20" font-weight="bold" fill="#000" stroke="#000" stroke-width="0.714" stroke-linejoin="round">†</text>
<text transform="translate(24.9,506.97) rotate(-90)" font-size="13.0" fill="#111" stroke="#111" stroke-width="0.1" textLength="195.87" lengthAdjust="spacingAndGlyphs">Bone Volume Fraction (mm<tspan font-size="7.3" dy="-4.4">3</tspan><tspan dy="4.4">/mm</tspan><tspan font-size="7.3" dy="-4.4">3</tspan><tspan dy="4.4">)</tspan></text>
<text transform="translate(18.31,311.26) rotate(-90) scale(0.6756,0.6945)" font-size="20" font-weight="bold" fill="#000" stroke="#000" stroke-width="0.730" stroke-linejoin="round">†</text>
<text transform="translate(16.44,304.26) rotate(-90) scale(0.8151,0.5322)" font-size="20" font-weight="normal" fill="#000" stroke="#000" stroke-width="0.297" stroke-linejoin="round">,</text>
<text transform="translate(17.05,299.74) rotate(-90) scale(0.5450,0.6460)" font-size="20" font-weight="bold" fill="#000" stroke="#000" stroke-width="0.840" stroke-linejoin="round">#</text>
<text transform="translate(294.8,495.99) rotate(-90)" font-size="13.0" fill="#111" stroke="#111" stroke-width="0.1" textLength="155.00" lengthAdjust="spacingAndGlyphs">Trabecular Thickness (<tspan font-style="italic">μ</tspan>m)</text>
<text transform="translate(285.43,339.95) rotate(-90) scale(0.4629,0.5149)" font-size="20" font-weight="bold" fill="#000" stroke="#000" stroke-width="1.023" stroke-linejoin="round">^</text>
<text transform="translate(285.44,334.46) rotate(-90) scale(0.8151,0.5322)" font-size="20" font-weight="normal" fill="#000" stroke="#000" stroke-width="0.297" stroke-linejoin="round">,</text>
<text transform="translate(287.85,330.42) rotate(-90) scale(0.5794,0.6554)" font-size="20" font-weight="bold" fill="#000" stroke="#000" stroke-width="0.810" stroke-linejoin="round">‡</text>
<text transform="translate(285.44,323.56) rotate(-90) scale(0.8151,0.5322)" font-size="20" font-weight="normal" fill="#000" stroke="#000" stroke-width="0.297" stroke-linejoin="round">,</text>
<text transform="translate(288.55,318.90) rotate(-90) scale(0.6027,0.7018)" font-size="20" font-weight="normal" fill="#000" stroke="#000" stroke-width="0.843" stroke-linejoin="round">§</text>
<text transform="translate(285.44,312.16) rotate(-90) scale(0.8151,0.5322)" font-size="20" font-weight="normal" fill="#000" stroke="#000" stroke-width="0.297" stroke-linejoin="round">,</text>
<text transform="translate(287.45,308.67) rotate(-90) scale(0.6042,0.6978)" font-size="20" font-weight="bold" fill="#000" stroke="#000" stroke-width="0.768" stroke-linejoin="round">¶</text>
<text transform="translate(550.8,483.89) rotate(-90)" font-size="13.0" fill="#111" stroke="#111" stroke-width="0.1" textLength="158.19" lengthAdjust="spacingAndGlyphs">Trabecular Separation (<tspan font-style="italic">μ</tspan>m)</text>
<text transform="translate(542.48,323.95) rotate(-90) scale(0.4444,0.5835)" font-size="20" font-weight="bold" fill="#000" stroke="#000" stroke-width="0.973" stroke-linejoin="round">^</text>
<text transform="translate(542.94,318.26) rotate(-90) scale(0.8151,0.5322)" font-size="20" font-weight="normal" fill="#000" stroke="#000" stroke-width="0.297" stroke-linejoin="round">,</text>
<text transform="translate(544.79,314.88) rotate(-90) scale(0.6703,0.7328)" font-size="20" font-weight="normal" fill="#000" stroke="#000" stroke-width="0.784" stroke-linejoin="round">§</text>
</svg></body></html>
